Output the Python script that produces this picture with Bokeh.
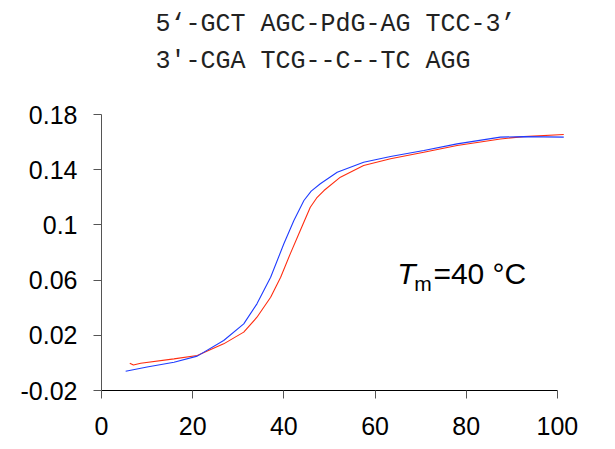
from bokeh.plotting import figure
from bokeh.models import Label, FixedTicker, Range1d, Title
from bokeh.embed import file_html
from bokeh.resources import INLINE

# Data
blue_t = [5.3, 10.0, 15.9, 21.0, 26.8, 31.2, 34.1, 37.1, 40.0, 42.2, 44.4, 46.0, 48.0, 51.7, 57.5, 63.4, 70.7, 78.0, 87.5, 92.6, 101.4]
blue_a = [-0.006, -0.003, 0.0005, 0.0049, 0.0162, 0.0283, 0.0428, 0.0621, 0.0863, 0.1032, 0.1177, 0.1245, 0.1298, 0.1382, 0.1454, 0.1496, 0.1539, 0.1587, 0.1636, 0.1640, 0.1636]
red_t = [6.2, 7.0, 8.6, 15.9, 21.0, 26.8, 31.2, 34.1, 37.1, 39.3, 41.4, 43.6, 45.8, 47.2, 48.8, 52.4, 57.5, 63.4, 70.7, 78.0, 87.5, 92.6, 101.4]
red_a = [-0.0002, -0.0015, -0.0002, 0.0029, 0.0054, 0.0138, 0.0223, 0.0331, 0.0476, 0.0621, 0.079, 0.0959, 0.1128, 0.1195, 0.1249, 0.1346, 0.1430, 0.1479, 0.1527, 0.1575, 0.1623, 0.1640, 0.1655]
x_ticks = [0, 20, 40, 60, 80, 100]
y_ticks = [-0.02, 0.02, 0.06, 0.1, 0.14, 0.18]
y_tick_labels = {-0.02: "-0.02", 0.02: "0.02", 0.06: "0.06", 0.1: "0.1", 0.14: "0.14", 0.18: "0.18"}
seq_top = "5‘-GCT AGC-PdG-AG TCC-3’"
seq_bottom = "3'-CGA TCG--C--TC AGG"

p = figure(width=607, height=441, output_backend="svg", toolbar_location=None,
           x_range=Range1d(0, 102), y_range=Range1d(-0.02, 0.18),
           min_border_left=101, min_border_right=41, min_border_top=114, min_border_bottom=51)
p.title.visible = False
p.outline_line_color = None
p.xgrid.visible = False
p.ygrid.visible = False

p.line(red_t, red_a, line_color="#ff2d10", line_width=1.1)
p.line(blue_t, blue_a, line_color="#1f3cff", line_width=1.1)

for ax in (p.xaxis[0], p.yaxis[0]):
    ax.axis_line_color = "#555555"
    ax.major_tick_line_color = "#555555"
    ax.major_tick_out = 8
    ax.major_tick_in = 0
    ax.minor_tick_line_color = None
    ax.major_label_text_font = "Liberation Sans"
    ax.major_label_text_font_size = "25px"
    ax.major_label_text_color = "black"

p.xaxis[0].axis_line_color = "black"
p.xaxis.ticker = FixedTicker(ticks=x_ticks)
p.xaxis.bounds = (0, 100)
p.xaxis.major_label_standoff = 18
p.yaxis.ticker = FixedTicker(ticks=y_ticks)
p.yaxis.major_label_overrides = y_tick_labels
p.yaxis.major_label_standoff = 16

# Sequence text above plot: two lines in one title (blank third line lifts them)
p.add_layout(Title(text=seq_top + "\n" + seq_bottom + "\n ", text_font="Liberation Mono", text_font_size="25px",
                   text_font_style="normal", text_color="#222222", align="left",
                   text_line_height=1.3, offset=54, standoff=1), "above")

# Tm annotation
p.add_layout(Label(x=64.9, y=0.0648, text="T", text_font="Liberation Sans", text_font_style="italic",
                   text_font_size="30px", text_baseline="alphabetic", text_color="black"))
p.add_layout(Label(x=68.6, y=0.0572, text="m", text_font="Liberation Sans",
                   text_font_size="21px", text_baseline="alphabetic", text_color="black"))
p.add_layout(Label(x=72.8, y=0.0648, text="=40 °C", text_font="Liberation Sans",
                   text_font_size="30px", text_baseline="alphabetic", text_color="black"))

open("out.html", "w").write(file_html(p, INLINE))
